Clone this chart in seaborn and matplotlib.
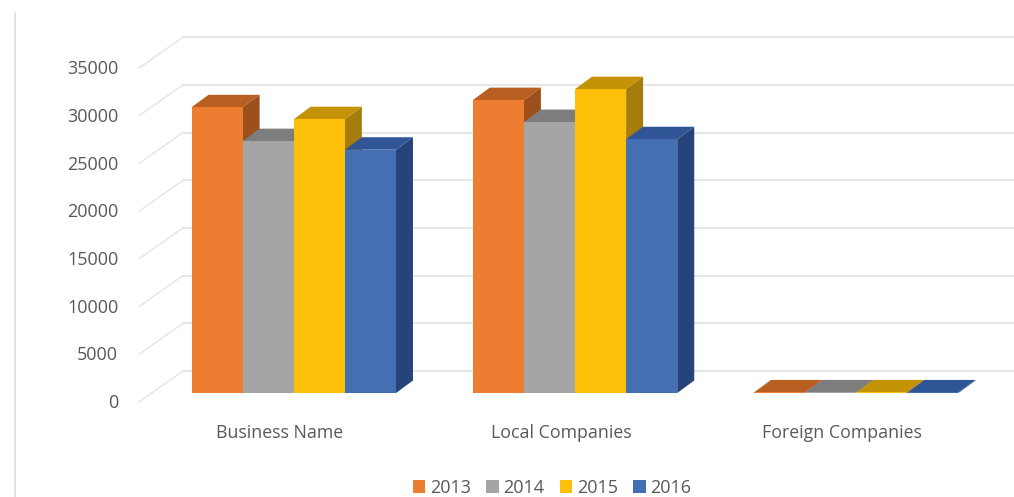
import pandas as pd
import seaborn as sns
import matplotlib.pyplot as plt
from matplotlib.lines import Line2D
from matplotlib.patches import Polygon
from matplotlib.transforms import Affine2D

# Values
categories = ['Business Name', 'Local Companies', 'Foreign Companies']
years = ['2013', '2014', '2015', '2016']
values_2013 = [29950, 30700, 60]
values_2014 = [26400, 28400, 60]
values_2015 = [28700, 31850, 60]
values_2016 = [25500, 26600, 60]
y_ticks = [0, 5000, 10000, 15000, 20000, 25000, 30000, 35000]

front_colors = ['#ED7D31', '#A5A5A5', '#FDBF08', '#446FB3']
top_colors = ['#B95F22', '#7D7D7D', '#C49205', '#2F5597']
side_colors = ['#9C501C', '#6E6E6E', '#A67D0C', '#27447A']
text_color = '#595959'
grid_color = '#E4E4E4'

# Pixel layout of the picture
W, H = 1014, 497
AX_LEFT, AX_TOP, BASE_Y = 139, 30, 393
GROUP_STEP = 281.25      # px between categories
FIRST_CENTER = 293.75    # px of first category
PX_PER_UNIT = 47.7 / 5000


def x_data(px):
    return (px - FIRST_CENTER) / GROUP_STEP


def y_data(px):
    return px / PX_PER_UNIT


def draw_depth(ax, container, top_color, side_color, zorder):
    # Fake the 3D look: a top and a side face behind each front rectangle
    dx, dy = x_data(17) - x_data(0), y_data(12.5)
    for bar in container:
        x0, x1 = bar.get_x(), bar.get_x() + bar.get_width()
        h = bar.get_height()
        top = [(x0, h), (x1, h), (x1 + dx, h + dy), (x0 + dx, h + dy)]
        side = [(x1, 0), (x1 + dx, dy), (x1 + dx, h + dy), (x1, h)]
        ax.add_patch(Polygon(side, fc=side_color, lw=0, zorder=zorder, clip_on=False))
        ax.add_patch(Polygon(top, fc=top_color, lw=0, zorder=zorder, clip_on=False))
        bar.set_zorder(zorder + 0.1)


def draw_walls(ax):
    # Back wall gridlines and the diagonal lines on the side wall
    back_shift = y_data(BASE_Y - 371)
    front_shift = y_data(BASE_Y - 402)
    for v in y_ticks:
        ax.plot([x_data(183), x_data(W)], [v + back_shift] * 2, color=grid_color,
                lw=1.3, zorder=1, clip_on=False)
        ax.plot([x_data(AX_LEFT), x_data(183)], [v + front_shift, v + back_shift],
                color=grid_color, lw=1.0, zorder=1, clip_on=False)


if __name__ == "__main__":
    sns.set_theme(style='white')
    plt.rcParams['font.family'] = ['Open Sans', 'DejaVu Sans']

    data = pd.DataFrame({
        'Category': categories * 4,
        'Year': [y for y in years for _ in categories],
        'Value': values_2013 + values_2014 + values_2015 + values_2016,
    })

    fig = plt.figure(figsize=(W / 100, H / 100), dpi=100, facecolor='white')
    ax = fig.add_axes([AX_LEFT / W, 1 - BASE_Y / H, (W - AX_LEFT) / W, (BASE_Y - AX_TOP) / H])
    ax.patch.set_alpha(0)

    sns.barplot(data=data, x='Category', y='Value', hue='Year', order=categories,
                hue_order=years, palette=front_colors, saturation=1, width=0.727,
                gap=0, linewidth=0, ax=ax)

    ax.set_xlim(x_data(AX_LEFT), x_data(W))
    ax.set_ylim(0, y_data(BASE_Y - AX_TOP))

    for i, container in enumerate(ax.containers):
        draw_depth(ax, container, top_colors[i], side_colors[i], 3 + i)
    draw_walls(ax)

    sns.despine(ax=ax, left=True, bottom=True)
    ax.set_xlabel('')
    ax.set_ylabel('')
    ax.set_yticks(y_ticks)
    ax.set_yticklabels([str(v) for v in y_ticks])
    ax.tick_params(axis='y', length=0, pad=15, labelsize=13, labelcolor=text_color)
    ax.tick_params(axis='x', length=0, pad=22.5, labelsize=12.8, labelcolor=text_color)

    # Labels sit off their bars in the original, so nudge them in pixels
    for label in ax.get_yticklabels():
        label.set_transform(label.get_transform() + Affine2D().translate(0, -8))
    for label in ax.get_xticklabels():
        label.set_transform(label.get_transform() + Affine2D().translate(-14, 0))

    # Page edge line on the left of the picture
    fig.add_artist(Line2D([15 / W, 15 / W], [0, 1 - 13 / H], color='#DEDEDE', lw=1.3))

    handles, labels = ax.get_legend_handles_labels()
    ax.legend(handles, labels, loc='center', bbox_to_anchor=(552 / W, 1 - 488 / H),
              bbox_transform=fig.transFigure, ncol=4, frameon=False, fontsize=13,
              labelcolor=text_color, handlelength=0.7, handleheight=0.7,
              handletextpad=0.25, columnspacing=0.85, borderpad=0)

    fig.savefig('out.png', dpi=100)
